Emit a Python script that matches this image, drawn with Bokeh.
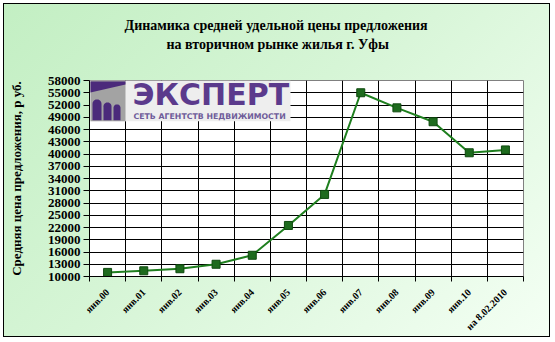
import math
import numpy as np
from bokeh.plotting import figure
from bokeh.models import FixedTicker, Range1d, Title
from bokeh.core.properties import value
from bokeh.embed import file_html
from bokeh.resources import INLINE

# ---- data ----
categories = ["янв.00", "янв.01", "янв.02", "янв.03", "янв.04", "янв.05",
              "янв.06", "янв.07", "янв.08", "янв.09", "янв.10", "на 8.02.2010"]
prices = [11000, 11400, 11900, 13000, 15200, 22500, 30100, 55000, 51300, 47900, 40300, 41000]
y_ticks = list(range(10000, 58001, 3000))
title_lines = ["Динамика средней удельной цены предложения",
               "на вторичном рынке жилья г. Уфы"]
y_title = "Средняя цена предложения, р уб."

n = len(categories)
centers = [i + 0.5 for i in range(n)]
bounds = list(range(n + 1))

SERIF = "Liberation Serif"

p = figure(width=547, height=334, output_backend="svg", toolbar_location=None,
           x_range=Range1d(0, n), y_range=Range1d(y_ticks[0], y_ticks[-1]),
           min_border_left=85, min_border_right=28, min_border_top=76, min_border_bottom=61)
p.styles = {"margin-left": "3px", "margin-top": "3px", "border": "1px solid black",
            "background": "linear-gradient(135deg, #c3efc3 0%, #d6f5d6 45%, #f4fff4 100%)"}
p.border_fill_color = None
p.background_fill_color = "white"
p.outline_line_color = "#808080"
p.outline_line_width = 1

# axes
p.yaxis.ticker = FixedTicker(ticks=y_ticks)
p.yaxis.major_tick_out = 6
p.yaxis.major_tick_in = 0
p.yaxis.minor_tick_line_color = None
p.yaxis.axis_line_color = "black"
p.yaxis.major_label_text_font = SERIF
p.yaxis.major_label_text_font_style = "bold"
p.yaxis.major_label_text_font_size = "13px"
p.yaxis.major_label_text_color = "black"
p.yaxis.major_label_standoff = 3
p.yaxis.axis_label = y_title
p.yaxis.axis_label_text_font = SERIF
p.yaxis.axis_label_text_font_style = "bold"
p.yaxis.axis_label_text_font_size = "13px"
p.yaxis.axis_label_text_color = "black"
p.yaxis.axis_label_standoff = 21

p.xaxis.ticker = FixedTicker(ticks=centers, minor_ticks=bounds)
p.xaxis.major_label_overrides = {c: lab for c, lab in zip(centers, categories)}
p.xaxis.major_tick_line_color = None
p.xaxis.minor_tick_out = 5
p.xaxis.minor_tick_in = 0
p.xaxis.minor_tick_line_color = "black"
p.xaxis.axis_line_color = "black"
p.xaxis.major_label_orientation = math.pi / 4
p.xaxis.major_label_text_font = SERIF
p.xaxis.major_label_text_font_style = "bold"
p.xaxis.major_label_text_font_size = "10px"
p.xaxis.major_label_text_color = "black"
p.xaxis.major_label_standoff = 8

p.xgrid.ticker = FixedTicker(ticks=bounds)
p.ygrid.ticker = FixedTicker(ticks=y_ticks)
for g in (p.xgrid, p.ygrid):
    g.grid_line_color = "black"
    g.grid_line_width = 1

# ---- titles: spacer nearest the frame, then line 2, then line 1 ----
tstyle = dict(text_font=SERIF, text_font_style="bold", text_font_size="14px", text_color="black")
p.add_layout(Title(text=" ", align="left", standoff=11, **tstyle), "above")
p.add_layout(Title(text=title_lines[1], align="left", offset=77, standoff=2, **tstyle), "above")
p.add_layout(Title(text=title_lines[0], align="left", offset=35, standoff=2, **tstyle), "above")

# ---- logo (decoration, in data space) ----
xpp = n / 434.0
ypp = (y_ticks[-1] - y_ticks[0]) / 197.0
def dx(px):
    return (px - 89) * xpp
def dy(py):
    return y_ticks[-1] - (py - 80) * ypp

purple = "#5b3a8c"
p.quad(left=dx(89), right=dx(290), top=dy(80), bottom=dy(121), fill_color="#eeeeee", line_color=None)
p.quad(left=dx(90), right=dx(125), top=dy(80.5), bottom=dy(121), fill_color="#a3a3a3", line_color=None)
p.patch([dx(90), dx(125), dx(125), dx(90)], [dy(81), dy(81), dy(84), dy(92)], fill_color="#4b2a7b", line_color=None)
arch_xs, arch_ys = [], []
for (l, r, top) in [(92, 101, 99), (103, 111, 102), (113, 120, 104)]:
    cx = (l + r) / 2.0
    rad = (r - l) / 2.0
    th = np.linspace(math.pi, 0, 16)
    xs = [dx(l)] + [dx(cx + rad * math.cos(t)) for t in th] + [dx(r)]
    ys = [dy(120)] + [dy(top + rad - rad * math.sin(t)) for t in th] + [dy(120)]
    arch_xs.append(xs)
    arch_ys.append(ys)
p.patches(arch_xs, arch_ys, fill_color="#4b2a7b", line_color=None)
p.text(x=[dx(132)], y=[dy(94)], text=["ЭКСПЕРТ"], text_font=value("DejaVu Sans"),
       text_font_style="bold", text_font_size="30px", text_color=purple,
       text_baseline="middle", text_align="left")
p.text(x=[dx(133)], y=[dy(116)], text=["СЕТЬ АГЕНТСТВ НЕДВИЖИМОСТИ"], text_font=value("DejaVu Sans"),
       text_font_style="bold", text_font_size="7.8px", text_color="#6f5c9a",
       text_baseline="middle", text_align="left")

# ---- data line ----
p.line(centers, prices, line_color="#1f7f1f", line_width=2)
p.scatter(centers, prices, marker="square", size=8, fill_color="#1e6b1e", line_color="#0f4a0f")

open("out.html", "w").write(file_html(p, INLINE))
